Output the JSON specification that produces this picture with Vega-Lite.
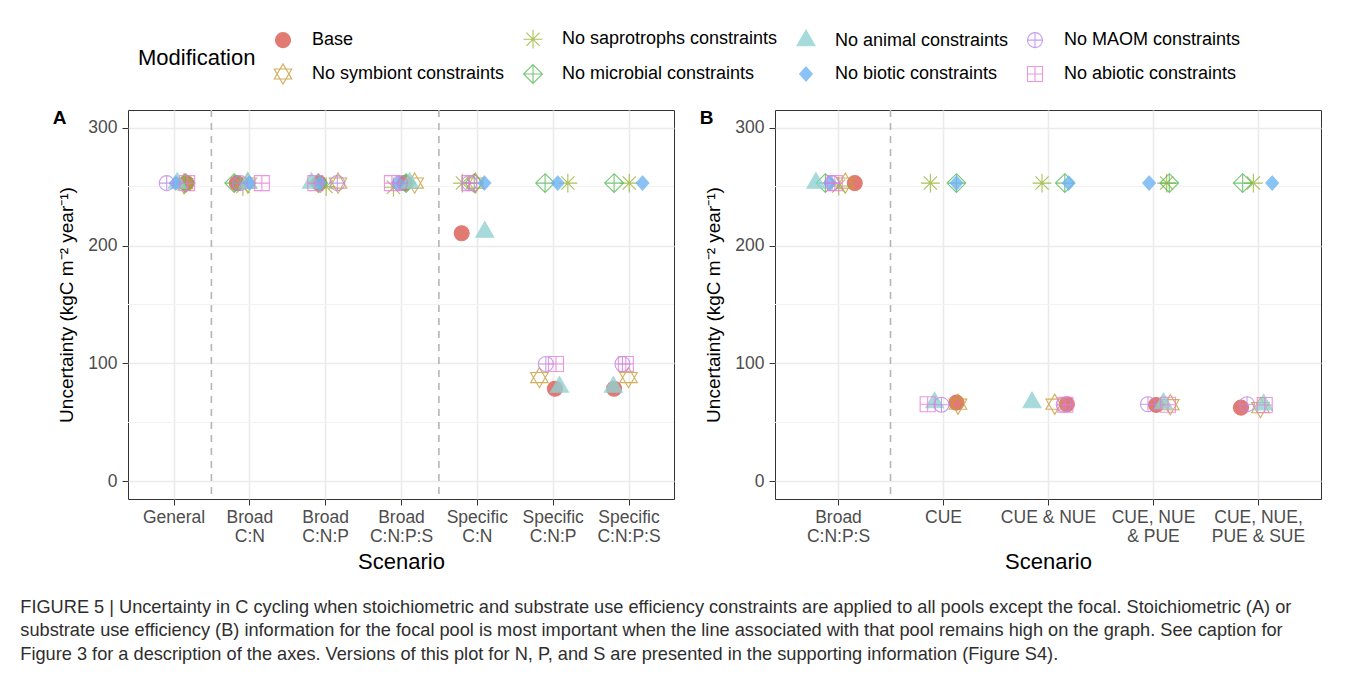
{
  "$schema": "https://vega.github.io/schema/vega-lite/v6.json",
  "background": "white",
  "padding": {"left": 20, "top": 30, "right": 5, "bottom": 5},
  "datasets": {
    "points": [
      {"panel": "A", "scenario": "General", "mod": "Base", "jitter": 0.17, "value": 253},
      {"panel": "A", "scenario": "General", "mod": "No symbiont constraints", "jitter": 0.14, "value": 252.5},
      {"panel": "A", "scenario": "General", "mod": "No saprotrophs constraints", "jitter": 0.14, "value": 252},
      {"panel": "A", "scenario": "General", "mod": "No microbial constraints", "jitter": 0.16, "value": 253},
      {"panel": "A", "scenario": "General", "mod": "No animal constraints", "jitter": 0.05, "value": 253},
      {"panel": "A", "scenario": "General", "mod": "No biotic constraints", "jitter": 0.03, "value": 253},
      {"panel": "A", "scenario": "General", "mod": "No MAOM constraints", "jitter": -0.09, "value": 253},
      {"panel": "A", "scenario": "General", "mod": "No abiotic constraints", "jitter": 0.18, "value": 253},

      {"panel": "A", "scenario": "Broad\nC:N", "mod": "Base", "jitter": -0.165, "value": 253},
      {"panel": "A", "scenario": "Broad\nC:N", "mod": "No symbiont constraints", "jitter": -0.02, "value": 253},
      {"panel": "A", "scenario": "Broad\nC:N", "mod": "No saprotrophs constraints", "jitter": -0.085, "value": 250},
      {"panel": "A", "scenario": "Broad\nC:N", "mod": "No microbial constraints", "jitter": -0.2, "value": 253},
      {"panel": "A", "scenario": "Broad\nC:N", "mod": "No animal constraints", "jitter": -0.02, "value": 253},
      {"panel": "A", "scenario": "Broad\nC:N", "mod": "No biotic constraints", "jitter": 0.003, "value": 253},
      {"panel": "A", "scenario": "Broad\nC:N", "mod": "No MAOM constraints", "jitter": -0.12, "value": 253},
      {"panel": "A", "scenario": "Broad\nC:N", "mod": "No abiotic constraints", "jitter": 0.165, "value": 253},

      {"panel": "A", "scenario": "Broad\nC:N:P", "mod": "Base", "jitter": -0.08, "value": 253},
      {"panel": "A", "scenario": "Broad\nC:N:P", "mod": "No symbiont constraints", "jitter": 0.17, "value": 253},
      {"panel": "A", "scenario": "Broad\nC:N:P", "mod": "No saprotrophs constraints", "jitter": 0.013, "value": 250},
      {"panel": "A", "scenario": "Broad\nC:N:P", "mod": "No microbial constraints", "jitter": -0.09, "value": 253},
      {"panel": "A", "scenario": "Broad\nC:N:P", "mod": "No animal constraints", "jitter": -0.18, "value": 253},
      {"panel": "A", "scenario": "Broad\nC:N:P", "mod": "No biotic constraints", "jitter": -0.07, "value": 253},
      {"panel": "A", "scenario": "Broad\nC:N:P", "mod": "No MAOM constraints", "jitter": 0.16, "value": 253},
      {"panel": "A", "scenario": "Broad\nC:N:P", "mod": "No abiotic constraints", "jitter": -0.13, "value": 253},

      {"panel": "A", "scenario": "Broad\nC:N:P:S", "mod": "Base", "jitter": 0.05, "value": 253},
      {"panel": "A", "scenario": "Broad\nC:N:P:S", "mod": "No symbiont constraints", "jitter": 0.18, "value": 253},
      {"panel": "A", "scenario": "Broad\nC:N:P:S", "mod": "No saprotrophs constraints", "jitter": -0.1, "value": 249.5},
      {"panel": "A", "scenario": "Broad\nC:N:P:S", "mod": "No microbial constraints", "jitter": 0.066, "value": 253},
      {"panel": "A", "scenario": "Broad\nC:N:P:S", "mod": "No animal constraints", "jitter": 0.115, "value": 253},
      {"panel": "A", "scenario": "Broad\nC:N:P:S", "mod": "No biotic constraints", "jitter": -0.04, "value": 253},
      {"panel": "A", "scenario": "Broad\nC:N:P:S", "mod": "No MAOM constraints", "jitter": -0.013, "value": 253},
      {"panel": "A", "scenario": "Broad\nC:N:P:S", "mod": "No abiotic constraints", "jitter": -0.12, "value": 253},

      {"panel": "A", "scenario": "Specific\nC:N", "mod": "Base", "jitter": -0.2, "value": 210.5},
      {"panel": "A", "scenario": "Specific\nC:N", "mod": "No symbiont constraints", "jitter": -0.017, "value": 253},
      {"panel": "A", "scenario": "Specific\nC:N", "mod": "No saprotrophs constraints", "jitter": -0.19, "value": 253},
      {"panel": "A", "scenario": "Specific\nC:N", "mod": "No microbial constraints", "jitter": -0.035, "value": 253},
      {"panel": "A", "scenario": "Specific\nC:N", "mod": "No animal constraints", "jitter": 0.105, "value": 211.5},
      {"panel": "A", "scenario": "Specific\nC:N", "mod": "No biotic constraints", "jitter": 0.1, "value": 253},
      {"panel": "A", "scenario": "Specific\nC:N", "mod": "No MAOM constraints", "jitter": -0.1, "value": 253},
      {"panel": "A", "scenario": "Specific\nC:N", "mod": "No abiotic constraints", "jitter": -0.1, "value": 253},

      {"panel": "A", "scenario": "Specific\nC:N:P", "mod": "Base", "jitter": 0.03, "value": 78.5},
      {"panel": "A", "scenario": "Specific\nC:N:P", "mod": "No symbiont constraints", "jitter": -0.175, "value": 88},
      {"panel": "A", "scenario": "Specific\nC:N:P", "mod": "No saprotrophs constraints", "jitter": 0.2, "value": 253},
      {"panel": "A", "scenario": "Specific\nC:N:P", "mod": "No microbial constraints", "jitter": -0.1, "value": 253},
      {"panel": "A", "scenario": "Specific\nC:N:P", "mod": "No animal constraints", "jitter": 0.09, "value": 80},
      {"panel": "A", "scenario": "Specific\nC:N:P", "mod": "No biotic constraints", "jitter": 0.066, "value": 253},
      {"panel": "A", "scenario": "Specific\nC:N:P", "mod": "No MAOM constraints", "jitter": -0.09, "value": 99.5},
      {"panel": "A", "scenario": "Specific\nC:N:P", "mod": "No abiotic constraints", "jitter": 0.044, "value": 99.5},

      {"panel": "A", "scenario": "Specific\nC:N:P:S", "mod": "Base", "jitter": -0.19, "value": 78.5},
      {"panel": "A", "scenario": "Specific\nC:N:P:S", "mod": "No symbiont constraints", "jitter": 0.0, "value": 88},
      {"panel": "A", "scenario": "Specific\nC:N:P:S", "mod": "No saprotrophs constraints", "jitter": 0.01, "value": 253},
      {"panel": "A", "scenario": "Specific\nC:N:P:S", "mod": "No microbial constraints", "jitter": -0.19, "value": 253},
      {"panel": "A", "scenario": "Specific\nC:N:P:S", "mod": "No animal constraints", "jitter": -0.2, "value": 80},
      {"panel": "A", "scenario": "Specific\nC:N:P:S", "mod": "No biotic constraints", "jitter": 0.185, "value": 253},
      {"panel": "A", "scenario": "Specific\nC:N:P:S", "mod": "No MAOM constraints", "jitter": -0.08, "value": 99.5},
      {"panel": "A", "scenario": "Specific\nC:N:P:S", "mod": "No abiotic constraints", "jitter": -0.035, "value": 99.5},

      {"panel": "B", "scenario": "Broad\nC:N:P:S", "mod": "Base", "jitter": 0.16, "value": 253},
      {"panel": "B", "scenario": "Broad\nC:N:P:S", "mod": "No symbiont constraints", "jitter": 0.07, "value": 253},
      {"panel": "B", "scenario": "Broad\nC:N:P:S", "mod": "No saprotrophs constraints", "jitter": 0.007, "value": 250.5},
      {"panel": "B", "scenario": "Broad\nC:N:P:S", "mod": "No microbial constraints", "jitter": -0.12, "value": 253},
      {"panel": "B", "scenario": "Broad\nC:N:P:S", "mod": "No animal constraints", "jitter": -0.21, "value": 253},
      {"panel": "B", "scenario": "Broad\nC:N:P:S", "mod": "No biotic constraints", "jitter": -0.076, "value": 253},
      {"panel": "B", "scenario": "Broad\nC:N:P:S", "mod": "No MAOM constraints", "jitter": -0.057, "value": 253},
      {"panel": "B", "scenario": "Broad\nC:N:P:S", "mod": "No abiotic constraints", "jitter": -0.03, "value": 253},

      {"panel": "B", "scenario": "CUE", "mod": "Base", "jitter": 0.128, "value": 66.8},
      {"panel": "B", "scenario": "CUE", "mod": "No symbiont constraints", "jitter": 0.143, "value": 65.4},
      {"panel": "B", "scenario": "CUE", "mod": "No saprotrophs constraints", "jitter": -0.12, "value": 253},
      {"panel": "B", "scenario": "CUE", "mod": "No microbial constraints", "jitter": 0.128, "value": 253},
      {"panel": "B", "scenario": "CUE", "mod": "No animal constraints", "jitter": -0.08, "value": 66.8},
      {"panel": "B", "scenario": "CUE", "mod": "No biotic constraints", "jitter": 0.128, "value": 253},
      {"panel": "B", "scenario": "CUE", "mod": "No MAOM constraints", "jitter": -0.015, "value": 65},
      {"panel": "B", "scenario": "CUE", "mod": "No abiotic constraints", "jitter": -0.146, "value": 65.4},

      {"panel": "B", "scenario": "CUE & NUE", "mod": "Base", "jitter": 0.18, "value": 65.4},
      {"panel": "B", "scenario": "CUE & NUE", "mod": "No symbiont constraints", "jitter": 0.064, "value": 65.4},
      {"panel": "B", "scenario": "CUE & NUE", "mod": "No saprotrophs constraints", "jitter": -0.057, "value": 253},
      {"panel": "B", "scenario": "CUE & NUE", "mod": "No microbial constraints", "jitter": 0.16, "value": 253},
      {"panel": "B", "scenario": "CUE & NUE", "mod": "No animal constraints", "jitter": -0.152, "value": 66.8},
      {"panel": "B", "scenario": "CUE & NUE", "mod": "No biotic constraints", "jitter": 0.197, "value": 253},
      {"panel": "B", "scenario": "CUE & NUE", "mod": "No MAOM constraints", "jitter": 0.15, "value": 65},
      {"panel": "B", "scenario": "CUE & NUE", "mod": "No abiotic constraints", "jitter": 0.165, "value": 65},

      {"panel": "B", "scenario": "CUE, NUE\n& PUE", "mod": "Base", "jitter": 0.03, "value": 64.8},
      {"panel": "B", "scenario": "CUE, NUE\n& PUE", "mod": "No symbiont constraints", "jitter": 0.165, "value": 65},
      {"panel": "B", "scenario": "CUE, NUE\n& PUE", "mod": "No saprotrophs constraints", "jitter": 0.13, "value": 253},
      {"panel": "B", "scenario": "CUE, NUE\n& PUE", "mod": "No microbial constraints", "jitter": 0.155, "value": 253},
      {"panel": "B", "scenario": "CUE, NUE\n& PUE", "mod": "No animal constraints", "jitter": 0.1, "value": 66},
      {"panel": "B", "scenario": "CUE, NUE\n& PUE", "mod": "No biotic constraints", "jitter": -0.037, "value": 253},
      {"panel": "B", "scenario": "CUE, NUE\n& PUE", "mod": "No MAOM constraints", "jitter": -0.048, "value": 65.4},
      {"panel": "B", "scenario": "CUE, NUE\n& PUE", "mod": "No abiotic constraints", "jitter": 0.143, "value": 65},

      {"panel": "B", "scenario": "CUE, NUE,\nPUE & SUE", "mod": "Base", "jitter": -0.162, "value": 62.5},
      {"panel": "B", "scenario": "CUE, NUE,\nPUE & SUE", "mod": "No symbiont constraints", "jitter": 0.023, "value": 62.5},
      {"panel": "B", "scenario": "CUE, NUE,\nPUE & SUE", "mod": "No saprotrophs constraints", "jitter": -0.044, "value": 253},
      {"panel": "B", "scenario": "CUE, NUE,\nPUE & SUE", "mod": "No microbial constraints", "jitter": -0.146, "value": 253},
      {"panel": "B", "scenario": "CUE, NUE,\nPUE & SUE", "mod": "No animal constraints", "jitter": 0.054, "value": 65},
      {"panel": "B", "scenario": "CUE, NUE,\nPUE & SUE", "mod": "No biotic constraints", "jitter": 0.135, "value": 253},
      {"panel": "B", "scenario": "CUE, NUE,\nPUE & SUE", "mod": "No MAOM constraints", "jitter": -0.105, "value": 65.4},
      {"panel": "B", "scenario": "CUE, NUE,\nPUE & SUE", "mod": "No abiotic constraints", "jitter": 0.064, "value": 64.8}
    ],
    "dividers": [
      {"panel": "A", "scenario": "General", "jitter": 0.5},
      {"panel": "A", "scenario": "Broad\nC:N:P:S", "jitter": 0.5},
      {"panel": "B", "scenario": "Broad\nC:N:P:S", "jitter": 0.5}
    ],
    "minor": [{"value": 50}, {"value": 150}, {"value": 250}]
  },
  "title": {
    "text": [
      "FIGURE 5 | Uncertainty in C cycling when stoichiometric and substrate use efficiency constraints are applied to all pools except the focal. Stoichiometric (A) or",
      "substrate use efficiency (B) information for the focal pool is most important when the line associated with that pool remains high on the graph. See caption for",
      "Figure 3 for a description of the axes. Versions of this plot for N, P, and S are presented in the supporting information (Figure S4)."
    ],
    "orient": "bottom",
    "anchor": "start",
    "frame": "bounds",
    "align": "left",
    "dx": -32,
    "offset": 26,
    "font": "Liberation Sans",
    "fontSize": 18.2,
    "fontWeight": "normal",
    "lineHeight": 23.5,
    "color": "#2E2E2E"
  },
  "spacing": 24,
  "resolve": {"scale": {"x": "independent", "xOffset": "independent"}},
  "hconcat": [
    {
      "width": 546,
      "height": 389,
      "title": {"text": "A", "anchor": "start", "frame": "bounds", "fontSize": 19, "fontWeight": "bold", "dy": 23, "dx": -5, "font": "Liberation Sans"},
      "layer": [
        {
          "data": {"name": "minor"},
          "mark": {"type": "rule", "color": "#F2F2F2", "strokeWidth": 1},
          "encoding": {
            "y": {"field": "value", "type": "quantitative", "scale": {"domain": [-15, 315], "nice": false, "zero": false},
                  "axis": {"values": [0, 100, 200, 300], "title": "Uncertainty (kgC m⁻² year⁻¹)"}}
          }
        },
        {
          "data": {"name": "dividers"},
          "transform": [{"filter": "datum.panel == 'A'"}],
          "mark": {"type": "rule", "color": "#B5B5B5", "strokeWidth": 1.6, "strokeDash": [7, 6]},
          "encoding": {
            "x": {"field": "scenario", "type": "nominal", "title": "Scenario",
                  "scale": {"type": "point", "padding": 0.6, "domain": ["General", "Broad\nC:N", "Broad\nC:N:P", "Broad\nC:N:P:S", "Specific\nC:N", "Specific\nC:N:P", "Specific\nC:N:P:S"]}},
            "xOffset": {"field": "jitter", "type": "quantitative", "scale": {"domain": [-0.5, 0.5], "range": [-37.9, 37.9]}}
          }
        },
        {
          "data": {"name": "points"},
          "transform": [{"filter": "datum.panel == 'A'"}],
          "mark": {"type": "point", "size": 225, "opacity": 0.8, "strokeWidth": 1.1},
          "encoding": {
            "x": {"field": "scenario", "type": "nominal", "title": "Scenario",
                  "scale": {"type": "point", "padding": 0.6, "domain": ["General", "Broad\nC:N", "Broad\nC:N:P", "Broad\nC:N:P:S", "Specific\nC:N", "Specific\nC:N:P", "Specific\nC:N:P:S"]}},
            "xOffset": {"field": "jitter", "type": "quantitative", "scale": {"domain": [-0.5, 0.5], "range": [-37.9, 37.9]}},
            "y": {"field": "value", "type": "quantitative", "scale": {"domain": [-15, 315], "nice": false, "zero": false},
                  "axis": {"values": [0, 100, 200, 300], "title": "Uncertainty (kgC m⁻² year⁻¹)"}},
            "stroke": {"field": "mod", "type": "nominal", "title": "Modification",
              "scale": {"domain": ["Base", "No saprotrophs constraints", "No animal constraints", "No MAOM constraints", "No symbiont constraints", "No microbial constraints", "No biotic constraints", "No abiotic constraints"],
                        "range": ["#DB5A52", "#95B431", "#92D1D1", "#BA88EC", "#C99C38", "#56BA56", "#6FB4F3", "#EA7CD9"]}},
            "fill": {"field": "mod", "type": "nominal", "title": "Modification",
              "scale": {"domain": ["Base", "No saprotrophs constraints", "No animal constraints", "No MAOM constraints", "No symbiont constraints", "No microbial constraints", "No biotic constraints", "No abiotic constraints"],
                        "range": ["#DB5A52", "transparent", "#92D1D1", "transparent", "transparent", "transparent", "#6FB4F3", "transparent"]}},
            "shape": {"field": "mod", "type": "nominal", "title": "Modification",
              "scale": {"domain": ["Base", "No saprotrophs constraints", "No animal constraints", "No MAOM constraints", "No symbiont constraints", "No microbial constraints", "No biotic constraints", "No abiotic constraints"],
                        "range": [
                          "circle",
                          "M-1.25,0L1.25,0M0,-1.25L0,1.25M-0.88,-0.88L0.88,0.88M-0.88,0.88L0.88,-0.88",
                          "M0,-1.39L1.2,0.69L-1.2,0.69Z",
                          "M-1,0A1,1 0 1,1 1,0A1,1 0 1,1 -1,0Z M-1,0L1,0 M0,-1L0,1",
                          "M0,-1.35L1.17,0.675L-1.17,0.675Z M0,1.35L1.17,-0.675L-1.17,-0.675Z",
                          "M0,-1.25L1.25,0L0,1.25L-1.25,0Z M-1.25,0L1.25,0 M0,-1.25L0,1.25",
                          "M0,-0.95L0.85,0L0,0.95L-0.85,0Z",
                          "M-1,-1L1,-1L1,1L-1,1Z M-1,0L1,0 M0,-1L0,1"
                        ]}}
          }
        }
      ]
    },
    {
      "width": 546,
      "height": 389,
      "title": {"text": "B", "anchor": "start", "frame": "bounds", "fontSize": 19, "fontWeight": "bold", "dy": 23, "dx": -5, "font": "Liberation Sans"},
      "layer": [
        {
          "data": {"name": "minor"},
          "mark": {"type": "rule", "color": "#F2F2F2", "strokeWidth": 1},
          "encoding": {
            "y": {"field": "value", "type": "quantitative", "scale": {"domain": [-15, 315], "nice": false, "zero": false},
                  "axis": {"values": [0, 100, 200, 300], "title": "Uncertainty (kgC m⁻² year⁻¹)"}}
          }
        },
        {
          "data": {"name": "dividers"},
          "transform": [{"filter": "datum.panel == 'B'"}],
          "mark": {"type": "rule", "color": "#B5B5B5", "strokeWidth": 1.6, "strokeDash": [7, 6]},
          "encoding": {
            "x": {"field": "scenario", "type": "nominal", "title": "Scenario",
                  "scale": {"type": "point", "padding": 0.6, "domain": ["Broad\nC:N:P:S", "CUE", "CUE & NUE", "CUE, NUE\n& PUE", "CUE, NUE,\nPUE & SUE"]}},
            "xOffset": {"field": "jitter", "type": "quantitative", "scale": {"domain": [-0.5, 0.5], "range": [-52.5, 52.5]}}
          }
        },
        {
          "data": {"name": "points"},
          "transform": [{"filter": "datum.panel == 'B'"}],
          "mark": {"type": "point", "size": 225, "opacity": 0.8, "strokeWidth": 1.1},
          "encoding": {
            "x": {"field": "scenario", "type": "nominal", "title": "Scenario",
                  "scale": {"type": "point", "padding": 0.6, "domain": ["Broad\nC:N:P:S", "CUE", "CUE & NUE", "CUE, NUE\n& PUE", "CUE, NUE,\nPUE & SUE"]}},
            "xOffset": {"field": "jitter", "type": "quantitative", "scale": {"domain": [-0.5, 0.5], "range": [-52.5, 52.5]}},
            "y": {"field": "value", "type": "quantitative", "scale": {"domain": [-15, 315], "nice": false, "zero": false},
                  "axis": {"values": [0, 100, 200, 300], "title": "Uncertainty (kgC m⁻² year⁻¹)"}},
            "stroke": {"field": "mod", "type": "nominal", "title": "Modification"},
            "fill": {"field": "mod", "type": "nominal", "title": "Modification"},
            "shape": {"field": "mod", "type": "nominal", "title": "Modification"}
          }
        }
      ]
    }
  ],
  "config": {
    "font": "Liberation Sans",
    "view": {"stroke": "#333333", "strokeWidth": 1},
    "axis": {
      "labelFont": "Liberation Sans",
      "labelFontSize": 17.5,
      "labelColor": "#4D4D4D",
      "titleFont": "Liberation Sans",
      "titleFontWeight": "normal",
      "titleColor": "#000000",
      "tickColor": "#333333",
      "tickSize": 6,
      "domain": false,
      "grid": true,
      "gridColor": "#EBEBEB",
      "gridWidth": 1.6,
      "labelPadding": 5
    },
    "axisX": {
      "labelAngle": 0,
      "labelExpr": "split(datum.label, '\\n')",
      "labelLineHeight": 19.5,
      "labelPadding": 3,
      "titleFontSize": 22,
      "titlePadding": 6
    },
    "axisY": {
      "titleFontSize": 19,
      "titlePadding": 11
    },
    "legend": {
      "orient": "none",
      "legendX": 10,
      "legendY": -80,
      "direction": "horizontal",
      "columns": 4,
      "titleOrient": "left",
      "titleAnchor": "middle",
      "titleBaseline": "middle",
      "titleFont": "Liberation Sans",
      "titleFontSize": 22,
      "titleFontWeight": "normal",
      "titleColor": "#000000",
      "titlePadding": 18,
      "labelFont": "Liberation Sans",
      "labelFontSize": 18,
      "labelColor": "#000000",
      "labelOffset": 20,
      "labelLimit": 0,
      "symbolSize": 225,
      "symbolStrokeWidth": 1.1,
      "symbolOpacity": 0.8,
      "rowPadding": 10,
      "columnPadding": 16
    }
  }
}
